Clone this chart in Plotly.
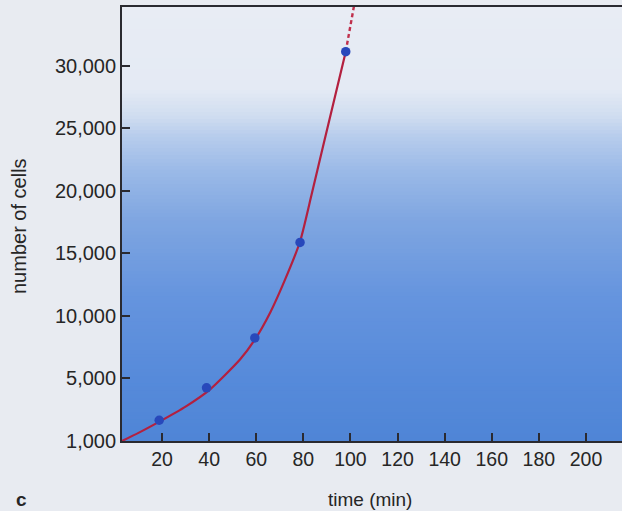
import plotly.graph_objects as go

# ---- data ----
# measured cell counts (blue dots)
point_time = [18.8, 38.9, 59.4, 78.6, 98.0]
point_cells = [1660, 4250, 8240, 15880, 31130]

# fitted growth curve (solid red)
curve_time = [3, 10, 18.7, 30, 40.3, 53.1, 59.4, 66, 72, 78.6, 83.5, 88.3, 98.0]
curve_cells = [0, 650, 1530, 2750, 4110, 6510, 8100, 10300, 12800, 15950, 19700, 23500, 31130]

# extrapolated part (dashed red)
extra_time = [98.0, 102.0]
extra_cells = [31130, 35300]

x_tick_vals = [20, 40, 60, 80, 100, 120, 140, 160, 180, 200]
y_tick_vals = [0, 5000, 10000, 15000, 20000, 25000, 30000]
y_tick_text = ["1,000", "5,000", "10,000", "15,000", "20,000", "25,000", "30,000"]

# ---- styling ----
W, H = 622, 511
ML, MR, MT, MB = 122, 0, 7, 70
FONT = "Liberation Sans, Arial, sans-serif"
AX = "#2a2a30"
TXT = "#262626"
PAGE = "#e8ebf1"

fig = go.Figure()

# background gradient inside the plot area (light top -> blue bottom)
stops = [
    (1.00, (232, 236, 244)),
    (0.81, (228, 234, 244)),
    (0.75, (208, 221, 240)),
    (0.70, (182, 204, 236)),
    (0.62, (154, 185, 231)),
    (0.51, (127, 166, 225)),
    (0.33, (101, 148, 222)),
    (0.14, (86, 138, 218)),
    (0.00, (79, 133, 214)),
]
stops = sorted(stops)
def col(p):
    for (p0, c0), (p1, c1) in zip(stops[:-1], stops[1:]):
        if p0 <= p <= p1:
            f = (p - p0) / (p1 - p0) if p1 > p0 else 0
            return "rgb(%d,%d,%d)" % tuple(round(a + (b - a) * f) for a, b in zip(c0, c1))
    return "rgb(%d,%d,%d)" % stops[-1][1]

N = 120
for i in range(N):
    y0 = i / N
    y1 = (i + 1) / N + 0.002
    fig.add_shape(type="rect", xref="x domain", yref="y domain",
                  x0=0, x1=1, y0=y0, y1=min(y1, 1), layer="below",
                  line=dict(width=0), fillcolor=col((i + 0.5) / N))

fig.add_trace(go.Scatter(x=curve_time, y=curve_cells, mode="lines",
                         line=dict(color="#b3203f", width=2.2, shape="spline", smoothing=0.6),
                         hoverinfo="skip", showlegend=False))
fig.add_trace(go.Scatter(x=extra_time, y=extra_cells, mode="lines",
                         line=dict(color="#c0304c", width=2.4, dash="4px,3px"),
                         hoverinfo="skip", showlegend=False))
fig.add_trace(go.Scatter(x=point_time, y=point_cells, mode="markers",
                         marker=dict(color="#2848bb", size=9.5, line=dict(width=0)),
                         showlegend=False))

fig.update_xaxes(range=[3, 215.3], tickvals=x_tick_vals, ticks="inside", ticklen=8,
                 tickwidth=1.5, tickcolor=AX, showline=True, linecolor=AX, linewidth=1.8,
                 mirror=True, showgrid=False, zeroline=False,
                 tickfont=dict(family=FONT, size=19.5, color=TXT))
fig.update_yaxes(range=[0, 34700], tickvals=y_tick_vals, ticktext=y_tick_text,
                 ticks="inside", ticklen=8, tickwidth=1.5, tickcolor=AX,
                 showline=True, linecolor=AX, linewidth=1.8, mirror=False,
                 showgrid=False, zeroline=False,
                 tickfont=dict(family=FONT, size=20, color=TXT))

fig.add_annotation(text="number of cells", xref="paper", yref="paper",
                   x=(19 - ML) / (W - ML - MR), y=(H - MB - 226) / (H - MT - MB),
                   textangle=-90, showarrow=False, xanchor="center", yanchor="middle",
                   font=dict(family=FONT, size=20, color=TXT))
fig.add_annotation(text="time (min)", xref="paper", yref="paper",
                   x=(370 - ML) / (W - ML - MR), y=(H - MB - 499) / (H - MT - MB),
                   showarrow=False, xanchor="center", yanchor="middle",
                   font=dict(family=FONT, size=19, color=TXT))
fig.add_annotation(text="<b>c</b>", xref="paper", yref="paper",
                   x=(21 - ML) / (W - ML - MR), y=(H - MB - 499) / (H - MT - MB),
                   showarrow=False, xanchor="center", yanchor="middle",
                   font=dict(family=FONT, size=19, color=TXT))

fig.update_layout(width=W, height=H, margin=dict(l=ML, r=MR, t=MT, b=MB),
                  paper_bgcolor=PAGE, plot_bgcolor=PAGE)

fig.write_html("out.html", config={"displayModeBar": False},
               post_script="document.body.style.margin='0';"
                           "document.body.style.overflow='hidden';"
                           "document.body.style.background='%s';" % PAGE)
